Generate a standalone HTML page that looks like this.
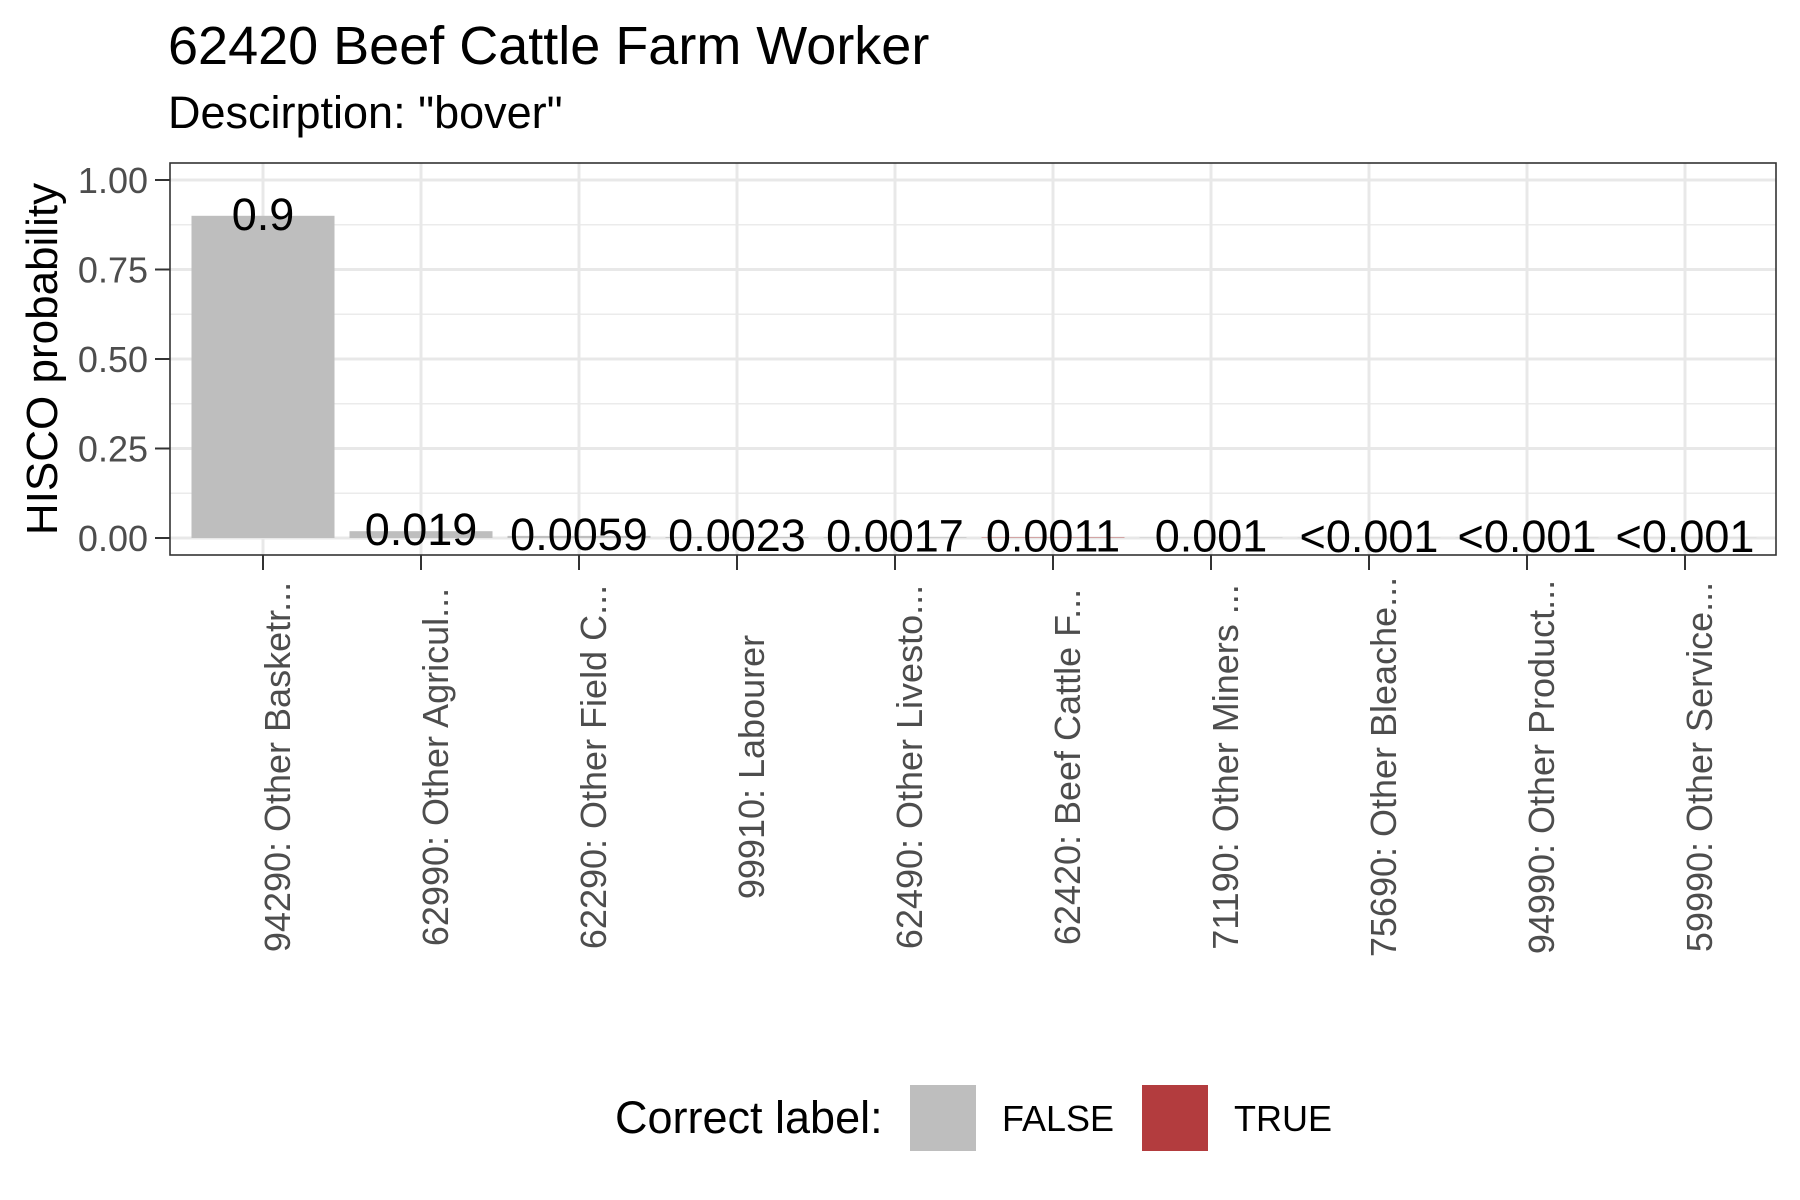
<!DOCTYPE html>
<html><head><meta charset="utf-8"><style>body{margin:0;background:#fff}svg{display:block;font-family:"Liberation Sans",Arial,sans-serif}</style></head>
<body>
<svg id="chart" width="1800" height="1200" viewBox="0 0 1800 1200">
<text x="168" y="64" font-size="54" fill="#000">62420 Beef Cattle Farm Worker</text>
<text x="168" y="128" font-size="45" fill="#000">Descirption: "bover"</text>
<g id="grid"></g><g id="bars"></g><g id="labels"></g>
<rect x="170" y="163" width="1606" height="392" fill="none" stroke="#333" stroke-width="1.6"/>
<g id="axes"></g>
<text transform="translate(57,359) rotate(-90)" text-anchor="middle" font-size="44" fill="#000">HISCO probability</text>
<g>
<text x="615" y="1133" font-size="45" fill="#000">Correct label:</text>
<rect x="910" y="1085" width="66" height="66" fill="#bebebe"/>
<text x="1002" y="1131" font-size="36" fill="#000">FALSE</text>
<rect x="1142" y="1085" width="66" height="66" fill="#b33c3e"/>
<text x="1234" y="1131" font-size="36" fill="#000">TRUE</text>
</g>
</svg>
<script>
const categories=["94290: Other Basketr...","62990: Other Agricul...","62290: Other Field C...","99910: Labourer","62490: Other Livesto...","62420: Beef Cattle F...","71190: Other Miners ...","75690: Other Bleache...","94990: Other Product...","59990: Other Service..."];
const values=[0.9,0.019,0.0059,0.0023,0.0017,0.0011,0.001,0.0005,0.0005,0.0004];
const valueLabels=["0.9","0.019","0.0059","0.0023","0.0017","0.0011","0.001","<0.001","<0.001","<0.001"];
const correct=[false,false,false,false,false,true,false,false,false,false];
const yTicks=[0,0.25,0.5,0.75,1];
const yTickLabels=["0.00","0.25","0.50","0.75","1.00"];
const NS="http://www.w3.org/2000/svg";
const L=170,R=1776,T=163,B=555;
const y=v=>538-v*358;
const x=i=>263+i*158.0;
const bw=143;
function mk(tag,attrs,parent){const e=document.createElementNS(NS,tag);for(const k in attrs)e.setAttribute(k,attrs[k]);document.getElementById(parent).appendChild(e);return e;}
const minor=[0.125,0.375,0.625,0.875];
minor.forEach(v=>{const e=mk('line',{x1:L,x2:R,y1:y(v),y2:y(v),stroke:'#ebebeb','stroke-width':1.4},'grid');

});
yTicks.forEach((v,i)=>{const e=mk('line',{x1:L,x2:R,y1:y(v),y2:y(v),stroke:'#e8e8e8','stroke-width':3},'grid');


const t=mk('line',{x1:155,x2:170,y1:y(v),y2:y(v),stroke:'#333','stroke-width':2},'axes');


const l=mk('text',{x:148,y:y(v)+13,'text-anchor':'end','font-size':36,fill:'#4d4d4d'},'axes');l.textContent=yTickLabels[i];

});
categories.forEach((c,i)=>{const g=mk('line',{x1:x(i),x2:x(i),y1:T,y2:B,stroke:'#e8e8e8','stroke-width':3},'grid');


const h=Math.max(values[i]*358,0.01);
const b=mk('rect',{x:x(i)-bw/2,y:y(values[i]),width:bw,height:h,fill:correct[i]?'#b33c3e':'#bebebe'},'bars');


const vl=mk('text',{x:x(i),y:y(values[i])+14,'text-anchor':'middle','font-size':45,fill:'#000'},'labels');vl.textContent=valueLabels[i];


const t=mk('line',{x1:x(i),x2:x(i),y1:555,y2:570,stroke:'#333','stroke-width':2},'axes');


const xl=mk('text',{transform:`translate(${x(i)+27},767) rotate(-90)`,'text-anchor':'middle','font-size':36,fill:'#4d4d4d'},'axes');xl.textContent=c;

});
</script>
</body></html>
